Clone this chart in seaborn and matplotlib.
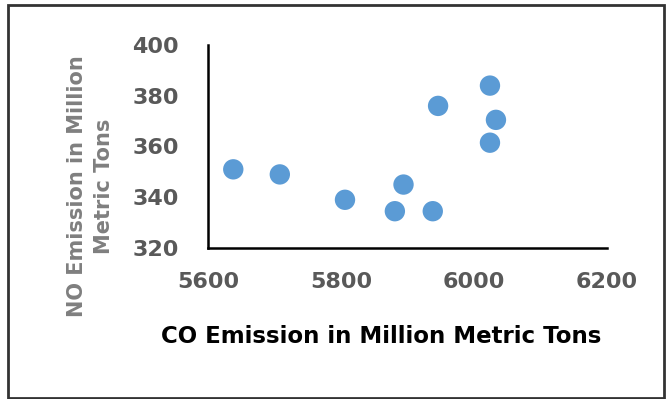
import matplotlib
matplotlib.use("Agg")
import matplotlib.pyplot as plt
from matplotlib.patches import Rectangle
import seaborn as sns
import pandas as pd

# CO vs NO emissions (million metric tons)
co_emission = [5638, 5708, 5806, 5881, 5894, 5938, 5946, 6024, 6033, 6024]
no_emission = [351, 349, 339, 334.5, 345, 334.5, 376, 384, 370.5, 361.5]

x_ticks = [5600, 5800, 6000, 6200]
y_ticks = [320, 340, 360, 380, 400]

df = pd.DataFrame({"co": co_emission, "no": no_emission})

sns.set_theme(style="white")
plt.rcParams["font.family"] = ["DejaVu Sans"]

fig = plt.figure(figsize=(6.67, 3.99), dpi=100)
ax = fig.add_axes([208 / 667, 1 - 248 / 399, (607 - 208) / 667, (248 - 45) / 399])

sns.scatterplot(data=df, x="co", y="no", ax=ax, color="#5B9BD5",
                s=215, edgecolor="none", linewidth=0, legend=False)

ax.set_xlim(x_ticks[0], x_ticks[-1])
ax.set_ylim(y_ticks[0], y_ticks[-1])
ax.set_xticks(x_ticks)
ax.set_yticks(y_ticks)

for side in ("top", "right"):
    ax.spines[side].set_visible(False)
for side in ("left", "bottom"):
    ax.spines[side].set_color("black")
    ax.spines[side].set_linewidth(1.8)

ax.tick_params(axis="both", length=0, labelsize=16, labelcolor="#595959")
ax.tick_params(axis="y", pad=21)
ax.tick_params(axis="x", pad=17)
for lab in ax.get_xticklabels() + ax.get_yticklabels():
    lab.set_fontweight("bold")

ax.set_xlabel("CO Emission in Million Metric Tons", fontsize=16.5,
              fontweight="bold", color="black", ha="center", va="center")
ax.xaxis.set_label_coords(0.434, -0.438)
ax.set_ylabel("NO Emission in Million\nMetric Tons", fontsize=15,
              fontweight="bold", color="#7F7F7F", ha="center", va="center",
              linespacing=1.45)
ax.yaxis.set_label_coords(-0.295, 0.305)

# Outer frame around the whole chart
fig.patches.append(Rectangle((8 / 667, 1 - 398 / 399), (664 - 8) / 667, (398 - 5) / 399,
                             transform=fig.transFigure, fill=False,
                             edgecolor="#333333", linewidth=2.0))

fig.savefig("out.png", dpi=100)
